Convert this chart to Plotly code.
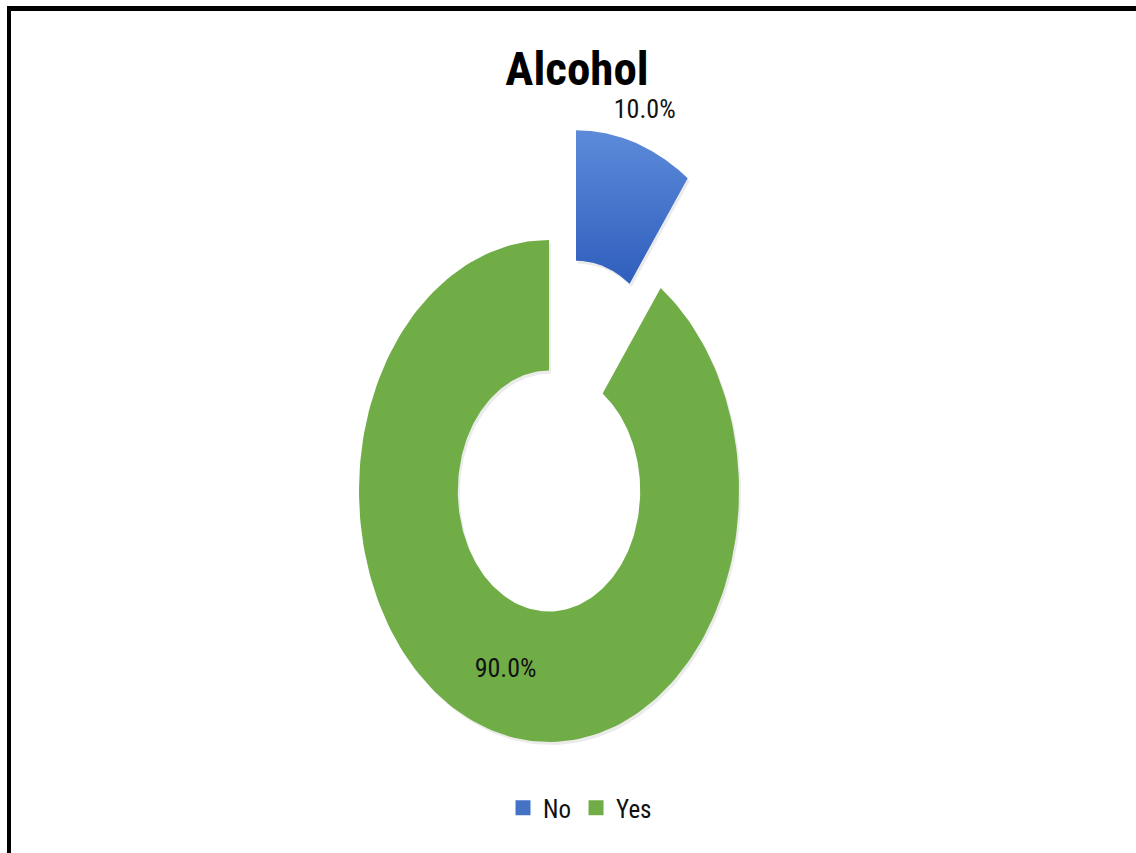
import numpy as np
import plotly.graph_objects as go

# Survey answers for the "Alcohol" question
labels = ["No", "Yes"]
values = [10.0, 90.0]
colors = ["#4472C4", "#70AD47"]
pulls = [0.46, 0.0]          # exploded slice offset, as fraction of outer radius

TITLE = "Alcohol"
HOLE = 0.48                  # inner radius / outer radius
FONT = "Liberation Sans Narrow, Roboto Condensed, Arial Narrow, Liberation Sans, sans-serif"

W, H = 1136, 853
CX, CY = 549, 491            # ring centre in pixels (from the left / top)
RX, RY = 190, 251            # outer radii in pixels; the ring is drawn as an ellipse

fig = go.Figure()

total = sum(values)
start = 0.0
for lab, val, col, pull in zip(labels, values, colors, pulls):
    span = 360.0 * val / total
    a0, a1 = np.radians(start), np.radians(start + span)
    mid = (a0 + a1) / 2
    dx, dy = pull * np.sin(mid), pull * np.cos(mid)
    t = np.linspace(a0, a1, 200)
    xs = np.concatenate([np.sin(t), HOLE * np.sin(t[::-1])]) + dx
    ys = np.concatenate([np.cos(t), HOLE * np.cos(t[::-1])]) + dy
    xs = np.append(xs, xs[0])
    ys = np.append(ys, ys[0])

    # soft drop shadow under the slice
    fig.add_trace(go.Scatter(
        x=xs + 2 / RX, y=ys - 3 / RY, mode="lines", fill="toself",
        fillcolor="rgba(0,0,0,0.08)", line=dict(width=0),
        hoverinfo="skip", showlegend=False))

    fill_kw = dict(fillcolor=col)
    if lab == "No":
        fill_kw = dict(fillgradient=dict(
            type="vertical",
            colorscale=[[0, "#2F5EBD"], [1, "#5D8BDA"]]))
    fig.add_trace(go.Scatter(
        x=xs, y=ys, mode="lines", fill="toself", line=dict(width=0),
        name=lab, showlegend=False,
        hovertemplate=f"{lab}: {val / total * 100:.1f}%<extra></extra>",
        **fill_kw))

    # percentage label: outside the exploded slice, inside the ring otherwise
    if pull > 0:
        lx, ly = 1.17 * np.sin(mid) + dx, 1.17 * np.cos(mid) + dy - 0.04
    else:
        r_lab = (1 + HOLE) / 2
        lx, ly = r_lab * np.sin(mid) + dx, r_lab * np.cos(mid) + dy - 0.012
    fig.add_trace(go.Scatter(
        x=[lx], y=[ly],
        mode="text", text=[f"{val / total * 100:.1f}%"],
        textfont=dict(family=FONT, size=26, color="#111111"),
        hoverinfo="skip", showlegend=False))
    start += span

# legend entries
for lab, col in zip(labels, colors):
    fig.add_trace(go.Scatter(
        x=[None], y=[None], mode="markers", name=lab,
        marker=dict(symbol="square", size=15, color=col)))

fig.update_layout(
    width=W, height=H,
    margin=dict(l=0, r=0, t=0, b=0),
    paper_bgcolor="white", plot_bgcolor="white",
    title=dict(text=f"<b>{TITLE}</b>", x=577 / W, xanchor="center",
               y=1 - 69 / H, yanchor="middle",
               font=dict(family=FONT, size=47, color="black")),
    xaxis=dict(range=[-CX / RX, (W - CX) / RX], visible=False, fixedrange=True),
    yaxis=dict(range=[-(H - CY) / RY, CY / RY], visible=False, fixedrange=True),
    legend=dict(orientation="h", x=580 / W, xanchor="center",
                y=1 - 808 / H, yanchor="middle",
                font=dict(family=FONT, size=25, color="#111111"),
                itemwidth=30, bgcolor="rgba(0,0,0,0)"),
    shapes=[
        dict(type="rect", xref="paper", yref="paper", x0=7 / W, x1=1,
             y0=1 - 11 / H, y1=1 - 6 / H, fillcolor="black", line=dict(width=0)),
        dict(type="rect", xref="paper", yref="paper", x0=7 / W, x1=11 / W,
             y0=0, y1=1 - 6 / H, fillcolor="black", line=dict(width=0)),
    ],
)

fig.write_html("out.html")
